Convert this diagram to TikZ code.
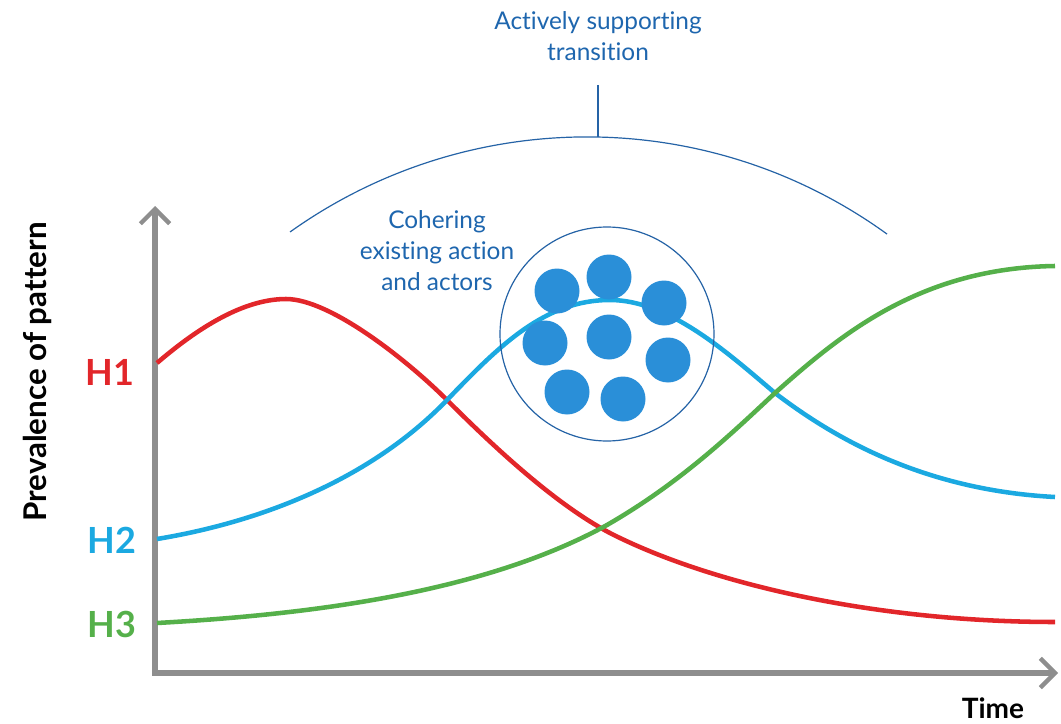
\documentclass[tikz,border=0pt]{standalone}
\usepackage{fontspec}
\setmainfont{Lato}[Ligatures={NoCommon,NoRare}]
\usetikzlibrary{arrows.meta}
\definecolor{redc}{HTML}{E2262A}
\definecolor{cyanc}{HTML}{1BA9E1}
\definecolor{greenc}{HTML}{55B04A}
\definecolor{dotc}{HTML}{2A8FD8}
\definecolor{textblue}{HTML}{1E66AE}
\definecolor{linec}{HTML}{2563A6}
\definecolor{axisgray}{HTML}{8E8E8E}
\tikzset{
  axisline/.style={draw=axisgray, line width=4.5pt,
    arrows={Straight Barb[length=11pt,width=22pt,line width=3.2pt]-Straight Barb[length=11pt,width=22pt,line width=3.2pt]}},
  curve/.style={line width=3.4pt},
  thinblue/.style={draw=linec, line width=0.9pt},
  dot/.style={circle, fill=dotc, minimum size=33.75pt, inner sep=0pt},
  hlabel/.style={font=\fontsize{27}{30}\selectfont\bfseries},
  bluetext/.style={text=textblue, font=\fontsize{18.3}{23.2}\selectfont, align=center},
  axlabel/.style={font=\fontsize{21}{24}\selectfont\bfseries}
}
\begin{document}
\begin{tikzpicture}[x=0.75pt, y=-0.75pt]
\useasboundingbox (0,0) rectangle (1061,724);
% axes
\coordinate (O) at (155,673);
\coordinate (ytip) at (155,206);
\coordinate (xtip) at (1058,673);
\draw[axisline] (ytip) -- (O) -- (xtip);
% curves
\draw[curve, draw=redc] (157,363) .. controls (192,333) and (240,299) .. (286,299)
  .. controls (330,299) and (407,360) .. (447,400)
  .. controls (490,443) and (560,510) .. (620,538)
  .. controls (720,586) and (880,622) .. (1055,622);
\draw[curve, draw=cyanc] (157,539) .. controls (260,522) and (370,480) .. (447,400)
  .. controls (500,345) and (545,300) .. (610,300)
  .. controls (670,300) and (730,355) .. (775,393)
  .. controls (830,435) and (920,490) .. (1055,497);
\draw[curve, draw=greenc] (157,623) .. controls (300,615) and (480,595) .. (607,525)
  .. controls (680,483) and (730,435) .. (775,393)
  .. controls (840,335) and (920,268) .. (1055,266);
% circle with dots
\node[circle, thinblue, minimum size=160.5pt, inner sep=0pt] (group) at (607,334) {};
\node[dot] (d1) at (557,291) {};
\node[dot] (d2) at (609,277) {};
\node[dot] (d3) at (664,303) {};
\node[dot] (d4) at (545,343) {};
\node[dot] (d5) at (609,337) {};
\node[dot] (d6) at (668,360) {};
\node[dot] (d7) at (567,392) {};
\node[dot] (d8) at (623,399) {};
% arc and title
\coordinate (arcL) at (290,232);
\draw[thinblue] (arcL) arc[start angle=125.5, end angle=54.1, radius=383.7pt];
\coordinate (arctop) at (598,137);
\coordinate (stem) at (598,85);
\draw[thinblue] (stem) -- (arctop);
\node[bluetext] (title) at (598,36) {Actively supporting\\transition};
\node[bluetext] (cohere) at (437,251) {Cohering\\existing action\\and actors};
% labels
\node[hlabel, text=redc] (h1) at (110,372) {H1};
\node[hlabel, text=cyanc] (h2) at (112,540) {H2};
\node[hlabel, text=greenc] (h3) at (112,624) {H3};
\node[axlabel, rotate=90, font=\fontsize{23.5}{26}\selectfont\bfseries] (ylab) at (37,372) {Prevalence of pattern};
\node[axlabel] (xlab) at (993,708) {Time};
\end{tikzpicture}
\end{document}
